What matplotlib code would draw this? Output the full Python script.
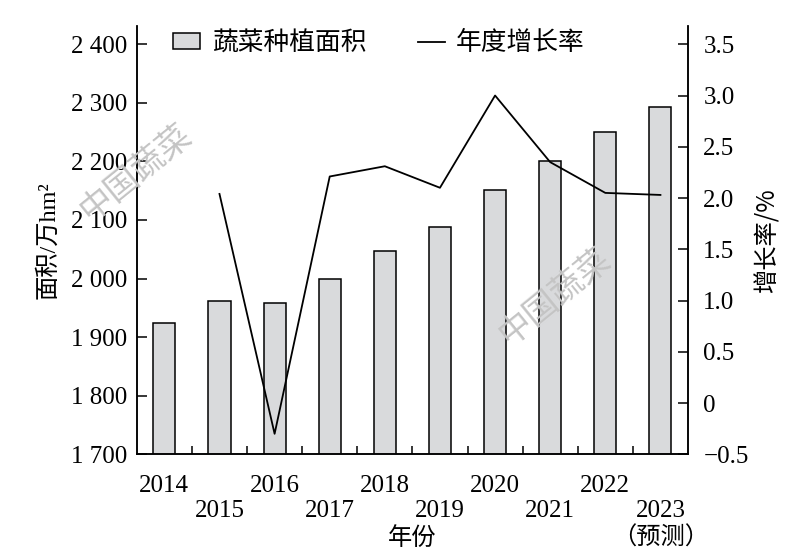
import matplotlib
matplotlib.use('Agg')
import matplotlib.pyplot as plt
import matplotlib.transforms as mtransforms
import numpy as np
from matplotlib.patches import Patch
from matplotlib.lines import Line2D

# 数据
years = [2014, 2015, 2016, 2017, 2018, 2019, 2020, 2021, 2022, 2023]
area = [1924, 1962, 1958, 1999, 2047, 2088, 2152, 2201, 2250, 2293]
rate_years = [2015, 2016, 2017, 2018, 2019, 2020, 2021, 2022, 2023]
rate = [2.04, -0.30, 2.21, 2.31, 2.10, 3.00, 2.35, 2.05, 2.03]
area_ticks = [1700, 1800, 1900, 2000, 2100, 2200, 2300, 2400]
rate_ticks = [-0.5, 0, 0.5, 1.0, 1.5, 2.0, 2.5, 3.0, 3.5]
rate_ticklabels = ['\u22120.5', '0', '0.5', '1.0', '1.5', '2.0', '2.5', '3.0', '3.5']
forecast_year = 2023

serif = ['Liberation Serif', 'Noto Sans CJK SC']
plt.rcParams['font.family'] = serif
plt.rcParams['axes.linewidth'] = 1.1

fig = plt.figure(figsize=(8, 5.59), dpi=100)
ax = fig.add_axes([0.171, 0.1873, 0.689, 0.766])

x = np.arange(len(years))
ax.bar(x, area, width=0.4, color='#d9dadc', edgecolor='black', linewidth=1.1, zorder=2)
ax.set_xlim(-0.5, len(years) - 0.5)
ax.set_ylim(1700, 2431)
ax.set_yticks(area_ticks)
ax.set_yticklabels([f'{v // 1000} {v % 1000:03d}' for v in area_ticks])
ax.tick_params(axis='y', direction='in', length=7, width=1.1, labelsize=18, pad=7)

# x 轴标签交错排列
labels = [('\n' + str(y)) if i % 2 == 1 else str(y) for i, y in enumerate(years)]
ax.set_xticks(x)
ax.set_xticklabels(labels, linespacing=1.18)
ax.set_xticks(x[:-1] + 0.5, minor=True)
ax.tick_params(axis='x', which='major', length=0, labelsize=18, pad=15)
ax.tick_params(axis='x', which='minor', direction='in', length=6, width=1.1)

# 预测 标注
trans = mtransforms.blended_transform_factory(ax.transData, ax.transAxes)
ax.text(years.index(forecast_year), -0.195, '（预测）', transform=trans, ha='center',
        va='center', fontsize=17.5, family=['Noto Sans CJK SC'], fontweight='light')

ax.set_xlabel('年份', fontsize=17.5, family=['Noto Sans CJK SC'], fontweight='light')
ax.xaxis.set_label_coords(0.5, -0.195)
ax.xaxis.label.set_verticalalignment('center')
ax.set_ylabel('面积/万hm²', fontsize=17.5, labelpad=8)
ax.spines['top'].set_visible(False)

ax2 = ax.twinx()
rx = [years.index(y) for y in rate_years]
ax2.plot(rx, rate, color='black', linewidth=1.3, zorder=3)
ax2.set_ylim(-0.5, 3.677)
ax2.set_yticks(rate_ticks)
ax2.set_yticklabels(rate_ticklabels)
ax2.tick_params(axis='y', direction='in', length=7, width=1.1, labelsize=18, pad=11)
ax2.set_ylabel('增长率/%', fontsize=17.5, family=['Noto Sans CJK SC'], fontweight='light',
               rotation=90, labelpad=4)
ax2.spines['top'].set_visible(False)

handles = [Patch(facecolor='#d9dadc', edgecolor='black', linewidth=1.1),
           Line2D([], [], color='black', linewidth=1.3)]
ax2.legend(handles, ['蔬菜种植面积', '年度增长率'], loc='center left',
           bbox_to_anchor=(0.066, 0.96), ncol=2, frameon=False, borderpad=0,
           borderaxespad=0, handlelength=1.05, handleheight=0.55, handletextpad=0.45,
           columnspacing=2.0,
           prop={'family': ['Noto Sans CJK SC'], 'size': 18.5, 'weight': 'light'})

# 水印
for wx, wy in [(0.17, 0.692), (0.694, 0.470)]:
    fig.text(wx, wy, '中国蔬菜', fontsize=24, color='#c4c4c4', rotation=39,
             ha='center', va='center', family=['Noto Sans CJK SC'], fontweight='light', zorder=0)

fig.savefig('out.png', dpi=100)
